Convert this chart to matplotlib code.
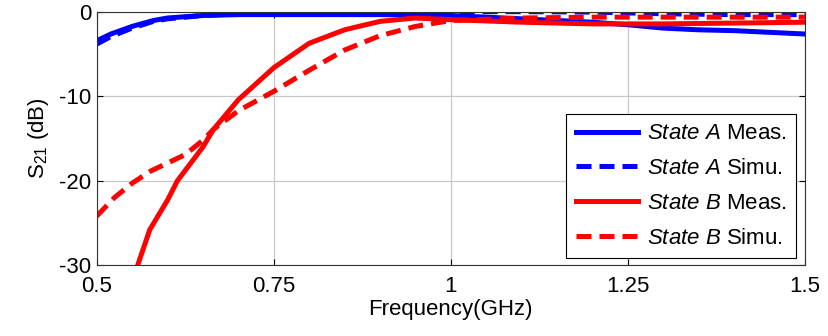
import matplotlib
matplotlib.use("Agg")
import matplotlib.pyplot as plt

plt.rcParams['font.family'] = ['Liberation Sans', 'DejaVu Sans']
plt.rcParams['mathtext.fontset'] = 'custom'
plt.rcParams['mathtext.rm'] = 'Liberation Sans'
plt.rcParams['mathtext.it'] = 'Liberation Sans:italic'
plt.rcParams['axes.unicode_minus'] = False

# State A
freq_a_meas = [0.5, 0.52, 0.55, 0.58, 0.6, 0.65, 0.7, 0.8, 0.9, 1.0, 1.05, 1.1,
               1.15, 1.2, 1.25, 1.3, 1.35, 1.4, 1.45, 1.5]
s21_a_meas = [-3.4, -2.6, -1.7, -1.0, -0.7, -0.4, -0.3, -0.3, -0.3, -0.4, -0.6, -0.8,
              -1.0, -1.2, -1.5, -1.9, -2.1, -2.2, -2.4, -2.6]
freq_a_sim = [0.5, 0.52, 0.55, 0.58, 0.6, 0.65, 0.7, 0.8, 0.9, 1.0, 1.1, 1.2,
              1.25, 1.3, 1.4, 1.5]
s21_a_sim = [-3.8, -2.9, -1.9, -1.1, -0.8, -0.4, -0.2, 0.0, 0.05, 0.05, 0.05, 0.0,
             -0.1, -0.2, -0.3, -0.3]

# State B
freq_b_meas = [0.558, 0.575, 0.6, 0.614, 0.65, 0.665, 0.7, 0.75, 0.8, 0.85, 0.9,
               0.95, 1.0, 1.1, 1.2, 1.3, 1.4, 1.5]
s21_b_meas = [-30, -25.8, -22.3, -20, -16.0, -13.9, -10.4, -6.6, -3.7, -2.1, -1.1,
              -0.7, -0.9, -1.2, -1.4, -1.4, -1.3, -1.2]
freq_b_sim = [0.5, 0.525, 0.55, 0.575, 0.6, 0.625, 0.65, 0.665, 0.7, 0.75, 0.8,
              0.85, 0.9, 0.95, 1.0, 1.1, 1.2, 1.3, 1.4, 1.5]
s21_b_sim = [-24.2, -22, -20.3, -18.9, -17.9, -16.9, -15.2, -13.9, -11.7, -9.4, -6.9,
             -4.5, -2.8, -1.7, -1.0, -0.7, -0.6, -0.6, -0.6, -0.6]

fig = plt.figure(figsize=(8.29, 3.36), dpi=100)
ax = fig.add_axes([0.1166, 0.211, 0.8544, 0.753])

dash = (0, (3, 1.6))
ax.plot(freq_a_meas, s21_a_meas, color='#0000ff', lw=3.6, label=r'$\it{State\ A}$ Meas.')
ax.plot(freq_a_sim, s21_a_sim, color='#0000ff', lw=3.6, linestyle=dash, label=r'$\it{State\ A}$ Simu.')
ax.plot(freq_b_meas, s21_b_meas, color='#ff0000', lw=3.6, label=r'$\it{State\ B}$ Meas.')
ax.plot(freq_b_sim, s21_b_sim, color='#ff0000', lw=3.6, linestyle=dash, label=r'$\it{State\ B}$ Simu.')

ax.set_xlim(0.5, 1.5)
ax.set_ylim(-30, 0)
ax.set_xticks([0.5, 0.75, 1, 1.25, 1.5])
ax.set_xticklabels(['0.5', '0.75', '1', '1.25', '1.5'])
ax.set_yticks([-30, -20, -10, 0])
ax.grid(True, color='#c8c8c8', lw=0.9)
ax.tick_params(direction='in', top=True, right=True, labelsize=16, length=4)
ax.tick_params(axis='x', pad=8)
ax.tick_params(axis='y', pad=4)
for s in ax.spines.values():
    s.set_linewidth(0.8)
    s.set_color('#333333')

ax.set_xlabel('Frequency(GHz)', fontsize=16, labelpad=1)
ax.set_ylabel(r'S$_{21}$ (dB)', fontsize=16, labelpad=6)

leg = ax.legend(loc='lower right', bbox_to_anchor=(0.987, 0.028), borderaxespad=0,
                fontsize=16, fancybox=False, framealpha=1, edgecolor='black',
                handlelength=2.8, labelspacing=0.62, borderpad=0.42, handletextpad=0.4)
leg.get_frame().set_linewidth(0.8)

fig.savefig('out.png', dpi=100)
